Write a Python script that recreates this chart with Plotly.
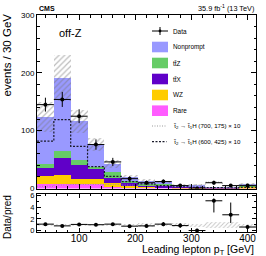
import numpy as np
import plotly.graph_objects as go

# ---------------- data ----------------
bin_centers = [40, 70, 100, 130, 160, 190, 220, 250, 280, 310, 340, 370, 400]
bin_width = 30

rare      = [7.0, 8.0, 7.0, 7.0, 3.0, 1.5, 1.0, 1.0, 0.6, 0.6, 0.2, 0.2, 0.8]
wz        = [14.0, 14.5, 10.0, 10.0, 6.0, 3.0, 2.0, 1.5, 1.0, 1.0, 0.3, 0.3, 2.0]
ttx       = [14.0, 29.5, 23.0, 17.0, 9.6, 5.0, 3.0, 2.5, 1.2, 1.2, 0.4, 0.4, 1.5]
ttz       = [8.0, 12.0, 10.0, 4.0, 9.4, 4.0, 2.0, 2.0, 0.8, 0.8, 0.3, 0.3, 1.0]
nonprompt = [81.0, 127.0, 66.5, 38.0, 14.0, 6.5, 5.0, 4.0, 2.4, 2.4, 0.8, 0.7, 2.7]
pred_unc  = [26.0, 39.0, 20.0, 11.5, 7.0, 4.0, 4.0, 2.0, 2.0, 1.5, 1.0, 1.0, 2.0]

data      = [145, 154, 125, 76, 46, 17, 10, 12, 5, 0, 10, 5, 5]
data_err  = [12.0, 13.0, 12.0, 9.0, 7.0, 4.0, 3.5, 3.5, 2.5, 0.0, 3.5, 2.5, 2.5]

sig_700_175 = [4, 6, 7, 7, 7, 6, 6, 5, 5, 6, 11, 5, 7]
sig_600_425 = [82, 119, 73, 38, 21, 12, 8, 5, 3, 2, 1.5, 1, 2]

ratio        = [1.1, 0.8, 1.05, 1.0, 1.1, 0.75, 0.8, 1.1, 0.85, 0.0, 5.1, 2.7, 0.6]
ratio_err_up = [0.1, 0.08, 0.1, 0.13, 0.18, 0.2, 0.25, 0.35, 0.4, 0.3, 0.4, 2.1, 0.35]
ratio_err_dn = [0.1, 0.08, 0.1, 0.13, 0.18, 0.2, 0.25, 0.35, 0.4, 0.0, 2.0, 1.4, 0.3]
ratio_unc    = [0.22, 0.2, 0.18, 0.16, 0.17, 0.18, 0.3, 0.2, 0.33, 0.25, 0.5, 0.5, 0.25]

x_range = [25, 415]
main_y_range = [0.01, 300]
ratio_y_range = [-0.25, 6.35]

colors = {
    "Nonprompt": "#9999ff",
    "ttZ": "#66cc66",
    "ttX": "#6000c8",
    "WZ": "#ffcc00",
    "Rare": "#ff5cff",
}

FONT = "Liberation Sans, Arial, Helvetica, sans-serif"

# ---------------- figure ----------------
W, H = 266, 256
ML, MR, MT, MB = 37, 10, 15, 24
PW, PH = W - ML - MR, H - MT - MB


def xp(px):
    return (px - ML) / PW


def yp(py):
    return (H - MB - py) / PH


fig = go.Figure()

components = [
    ("Rare", rare),
    ("WZ", wz),
    ("ttX", ttx),
    ("ttZ", ttz),
    ("Nonprompt", nonprompt),
]
base = np.zeros(len(bin_centers))
for name, vals in components:
    vals = np.array(vals, dtype=float)
    fig.add_trace(go.Bar(
        x=bin_centers, y=vals, base=base, width=bin_width,
        marker=dict(color=colors[name], line=dict(width=0)),
        xaxis="x", yaxis="y", showlegend=False, hoverinfo="skip",
    ))
    base = base + vals
total = base

# uncertainty hatch
unc = np.array(pred_unc)
fig.add_trace(go.Bar(
    x=bin_centers, y=2 * unc, base=total - unc, width=bin_width,
    marker=dict(color="rgba(0,0,0,0)", line=dict(width=0),
                pattern=dict(shape="/", fgcolor="#7a7a7a", bgcolor="rgba(0,0,0,0)",
                             size=4, solidity=0.3)),
    xaxis="x", yaxis="y", showlegend=False, hoverinfo="skip",
))

# signal step lines
edges = [c - bin_width / 2 for c in bin_centers] + [bin_centers[-1] + bin_width / 2]
fig.add_trace(go.Scatter(
    x=edges, y=list(sig_700_175) + [sig_700_175[-1]], mode="lines",
    line=dict(shape="hv", color="#9a9a9a", width=1, dash="1px,1.5px"),
    xaxis="x", yaxis="y", showlegend=False, hoverinfo="skip",
))
fig.add_trace(go.Scatter(
    x=edges, y=list(sig_600_425) + [sig_600_425[-1]], mode="lines",
    line=dict(shape="hv", color="#1a1a2a", width=1.2, dash="2px,1.5px"),
    xaxis="x", yaxis="y", showlegend=False, hoverinfo="skip",
))

# data
fig.add_trace(go.Scatter(
    x=bin_centers, y=data, mode="markers",
    marker=dict(color="black", size=4),
    error_y=dict(type="data", array=data_err, color="black", thickness=1, width=0),
    error_x=dict(type="constant", value=bin_width / 2, color="black", thickness=1, width=0),
    xaxis="x", yaxis="y", showlegend=False, hoverinfo="skip",
))

# ratio band
ru = np.array(ratio_unc)
fig.add_trace(go.Bar(
    x=bin_centers, y=2 * ru, base=1 - ru, width=bin_width,
    marker=dict(color="rgba(0,0,0,0)", line=dict(width=0),
                pattern=dict(shape="/", fgcolor="#8a8a8a", bgcolor="rgba(0,0,0,0)",
                             size=3, solidity=0.3)),
    xaxis="x2", yaxis="y2", showlegend=False, hoverinfo="skip",
))
fig.add_trace(go.Scatter(
    x=bin_centers, y=ratio, mode="markers",
    marker=dict(color="black", size=4),
    error_y=dict(type="data", symmetric=False, array=ratio_err_up,
                 arrayminus=ratio_err_dn, color="black", thickness=1, width=0),
    error_x=dict(type="constant", value=bin_width / 2, color="black", thickness=1, width=0),
    xaxis="x2", yaxis="y2", showlegend=False, hoverinfo="skip", cliponaxis=False,
))

main_bottom = yp(188.5)
ratio_top = yp(193.5)

axis_common = dict(showline=True, linecolor="black", linewidth=1, mirror="allticks",
                   ticks="inside", tickcolor="black", showgrid=False, zeroline=False)

fig.update_layout(
    width=W, height=H,
    margin=dict(l=ML, r=MR, t=MT, b=MB),
    paper_bgcolor="white", plot_bgcolor="white",
    barmode="overlay", bargap=0,
    font=dict(family=FONT, color="black"),
    xaxis=dict(domain=[0, 1], anchor="y", range=x_range, dtick=100, tick0=0,
               ticklen=5, minor=dict(dtick=20, ticklen=2.5, ticks="inside", tickcolor="black"),
               showticklabels=False, **axis_common),
    yaxis=dict(domain=[main_bottom, 1], anchor="x", range=main_y_range, dtick=100, tick0=0,
               ticklen=5, minor=dict(dtick=20, ticklen=2.5, ticks="inside", tickcolor="black"),
               tickfont=dict(size=8, family=FONT), **axis_common),
    xaxis2=dict(domain=[0, 1], anchor="y2", range=x_range, dtick=100, tick0=0,
                ticklen=4, minor=dict(dtick=20, ticklen=2, ticks="inside", tickcolor="black"),
                tickfont=dict(size=10, family=FONT), ticklabelstandoff=-3, **axis_common),
    yaxis2=dict(domain=[0, ratio_top], anchor="x2", range=ratio_y_range, dtick=2, tick0=0,
                ticklen=4, minor=dict(dtick=1, ticklen=2, ticks="inside", tickcolor="black"),
                tickfont=dict(size=7.5, family=FONT), **axis_common),
)

annotations = []


def ann(text, x, y, size, xanchor="left", yanchor="middle", textangle=0, **kw):
    annotations.append(dict(text=text, x=x, y=y, xref="paper", yref="paper",
                            xanchor=xanchor, yanchor=yanchor, showarrow=False,
                            textangle=textangle, font=dict(size=size, family=FONT, color="black"), **kw))


ann("<b>CMS</b>", xp(37), yp(8.5), 7)
ann("35.9 fb<sup>-1</sup> (13 TeV)", xp(256), yp(7.5), 7.3, xanchor="right")
ann("off-Z", xp(56.5), yp(33), 11)
ann("events / 30 GeV", xp(7), yp(12), 11.5, xanchor="center", yanchor="top", textangle=-90)
ann("Data/pred", xp(7), yp(217), 10, xanchor="center", textangle=-90)
ann("Leading lepton p<sub>T</sub> [GeV]", xp(256), yp(250), 10.5, xanchor="right")

# legend (manual)
shapes = []
sw_x0, sw_x1, txt_x = 152, 168, 170.5
legend_rows = [
    ("Nonprompt", "Nonprompt", 47),
    ("ttZ", "tt\u0304Z", 63),
    ("ttX", "tt\u0304X", 79),
    ("WZ", "WZ", 95),
    ("Rare", "Rare", 110.7),
]
for key, label, ry in legend_rows:
    shapes.append(dict(type="rect", xref="paper", yref="paper",
                       x0=xp(sw_x0), x1=xp(sw_x1), y0=yp(ry + 5.3), y1=yp(ry - 5.3),
                       fillcolor=colors[key], line=dict(width=0)))
    ann(label, xp(txt_x), yp(ry), 6.4)

# data legend entry
shapes.append(dict(type="line", xref="paper", yref="paper", x0=xp(sw_x0), x1=xp(sw_x1),
                   y0=yp(31), y1=yp(31), line=dict(color="black", width=1)))
shapes.append(dict(type="line", xref="paper", yref="paper", x0=xp(160), x1=xp(160),
                   y0=yp(27), y1=yp(35), line=dict(color="black", width=1)))
shapes.append(dict(type="circle", xref="paper", yref="paper", x0=xp(158.6), x1=xp(161.4),
                   y0=yp(32.4), y1=yp(29.6), fillcolor="black", line=dict(width=0)))
ann("Data", xp(txt_x), yp(31), 6.4)

# signal legend entries
shapes.append(dict(type="line", xref="paper", yref="paper", x0=xp(152), x1=xp(166.5),
                   y0=yp(126), y1=yp(126), line=dict(color="#9a9a9a", width=1, dash="1px,1.5px")))
ann("t\u0303<sub>2</sub> \u2192 t\u0303<sub>1</sub>H (700, 175) \u00d7 10", xp(txt_x), yp(126), 6.2)
shapes.append(dict(type="line", xref="paper", yref="paper", x0=xp(152), x1=xp(166.5),
                   y0=yp(141.7), y1=yp(141.7), line=dict(color="#1a1a2a", width=1.2, dash="2px,1.5px")))
ann("t\u0303<sub>2</sub> \u2192 t\u0303<sub>1</sub>H (600, 425) \u00d7 10", xp(txt_x), yp(141.7), 6.2)

fig.update_layout(annotations=annotations, shapes=shapes)

fig.write_html("out.html", config={"displayModeBar": False},
               post_script="document.body.style.margin='0';document.body.style.overflow='hidden';")
